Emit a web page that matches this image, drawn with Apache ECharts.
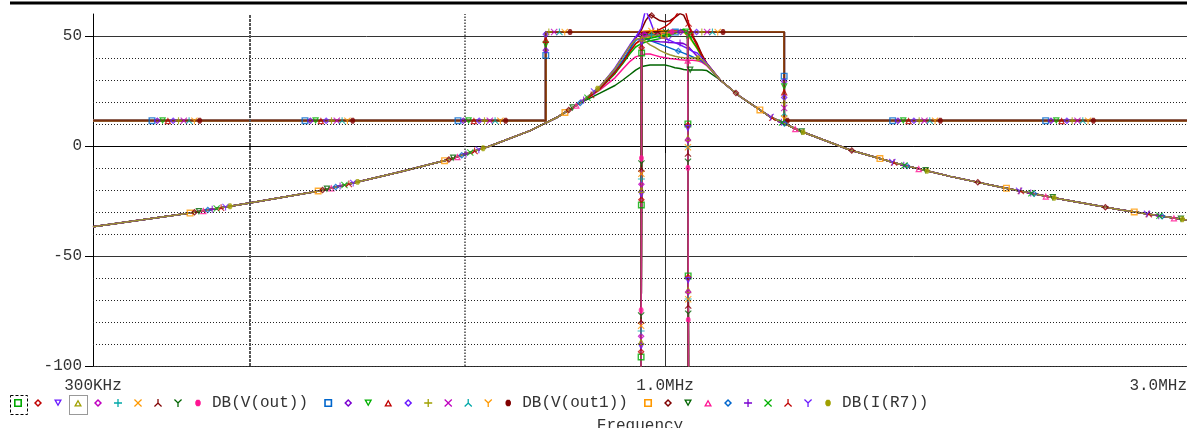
<!DOCTYPE html>
<html><head><meta charset="utf-8">
<script src="https://cdn.jsdelivr.net/npm/echarts@6/dist/echarts.min.js"></script>
<style>html,body{margin:0;padding:0;background:#fff;}#c{width:1187px;height:428px;}</style>
</head><body><div id="c"></div>
<script>
// ---------------- data ----------------
const xTickValues = [300e3, 1e6, 3e6];
const xTickLabels = ['300KHz', '1.0MHz', '3.0MHz'];
const yTickValues = [-100, -50, 0, 50];
const yTickLabels = ['-100', '-50', '0', '50'];
const yDottedGrid = [40, 30, 20, 10, -10, -20, -30, -40, -60, -70, -80, -90, -100];
const xDottedGrid = [417e3, 656e3];
const traceNames = ['DB(V(out))', 'DB(V(out1))', 'DB(I(R7))'];

// DB(V(out1)) : the 10 runs coincide
const out1FreqKHz = [300, 778, 778, 1285, 1285, 3000];
const out1Db      = [11.5, 11.5, 51.8, 51.8, 11.5, 11.5];

// DB(V(out)) : far below the plot outside a narrow band
const outFreqKHz = [300, 950, 952, 960, 969, 979, 989, 1000, 1010, 1021, 1032, 1040, 1049, 1051, 3000];
const outRun0 = [-200, -200, 48.0, 48.5, 49.0, 49.5, 50.0, 50.5, 51.0, 51.5, 52.0, 52.0, 52.0, -200, -200];
const outRun1 = [-200, -200, 50.0, 50.5, 51.0, 51.0, 51.2, 51.4, 51.6, 51.8, 52.0, 52.0, 52.0, -200, -200];
const outRun2 = [-200, -200, 51.0, 51.5, 51.5, 51.6, 51.6, 51.7, 51.8, 51.8, 51.9, 52.0, 52.0, -200, -200];
const outRun3 = [-200, -200, 49.0, 49.5, 50.0, 50.5, 51.0, 51.2, 51.4, 51.6, 51.8, 51.9, 52.0, -200, -200];
const outRun4 = [-200, -200, 50.5, 51.0, 51.0, 51.2, 51.4, 51.6, 51.8, 51.9, 52.0, 52.0, 52.0, -200, -200];
const outRun5 = [-200, -200, 49.5, 50.0, 50.5, 51.0, 51.3, 51.6, 51.8, 52.0, 52.0, 52.0, 52.0, -200, -200];
const outRun6 = [-200, -200, 52.0, 52.2, 52.3, 52.3, 52.3, 52.3, 52.3, 52.3, 52.3, 52.2, 52.0, -200, -200];
const outRun7 = [-200, -200, 51.5, 51.7, 51.8, 51.9, 52.0, 52.0, 52.0, 52.0, 52.0, 52.0, 52.0, -200, -200];
const outRun8 = [-200, -200, 50.0, 50.5, 51.0, 51.3, 51.6, 51.8, 52.0, 52.0, 52.0, 52.0, 52.0, -200, -200];
const outRun9 = [-200, -200, 49.5, 50.0, 50.5, 51.0, 51.3, 51.6, 51.8, 52.0, 52.0, 52.0, 52.0, -200, -200];

// DB(I(R7)) : resonance curves
const r7FreqKHz = [300, 368, 417, 484, 572, 632, 692, 753, 798, 836,
  872, 900, 915, 929, 940, 951, 960, 969, 979, 989, 1000, 1010, 1021, 1032, 1040, 1049, 1060, 1070, 1081, 1092,
  1123, 1171, 1247, 1329, 1476, 1639, 1822, 2024, 2297, 2606, 3000];
const r7LeftSkirt  = [-36.7, -30.5, -25.9, -20.3, -11.8, -6.4, 0.0, 7.0, 13.2, 19.5];
const r7RightSkirt = [30.0, 22.5, 13.3, 6.8, -1.8, -8.3, -13.8, -18.6, -24.1, -29.0, -33.6];
const r7Peak0 = [26.5, 33.0, 38.0, 43.0, 46.5, 48.0, 48.8, 49.3, 49.8, 50.0, 50.4, 50.8, 51.3, 51.8, 51.6, 50.2, 47.2, 44.2, 40.3, 36.8];
const r7Peak1 = [26.0, 33.0, 38.0, 44.0, 49.0, 52.5, 57.0, 59.8, 58.4, 57.0, 56.5, 56.9, 58.5, 60.2, 59.5, 55.5, 50.0, 46.5, 41.5, 37.5];
const r7Peak2 = [24.0, 27.5, 30.0, 32.5, 34.5, 36.0, 36.5, 36.8, 36.8, 36.8, 36.8, 36.3, 35.6, 35.2, 34.8, 34.5, 34.5, 34.5, 34.5, 34.3];
const r7Peak3 = [25.5, 31.0, 35.0, 38.5, 40.5, 41.3, 41.8, 41.8, 41.2, 40.6, 40.1, 39.8, 39.5, 39.2, 39.1, 39.0, 39.0, 38.8, 38.0, 36.5];
const r7Peak4 = [26.5, 34.0, 39.0, 44.0, 48.0, 49.2, 48.6, 47.9, 47.1, 46.3, 45.4, 44.6, 43.7, 42.9, 42.2, 41.5, 40.5, 39.6, 38.5, 37.0];
const r7Peak5 = [27.0, 35.0, 40.5, 45.5, 49.5, 51.0, 49.3, 48.0, 47.6, 47.4, 47.3, 47.1, 46.9, 46.8, 46.5, 45.5, 43.0, 40.8, 38.8, 37.0];
const r7Peak6 = [26.0, 33.0, 37.5, 42.0, 45.0, 46.5, 47.3, 47.8, 48.3, 48.8, 49.4, 50.2, 51.3, 52.6, 53.0, 51.5, 47.5, 44.5, 40.5, 37.0];
const r7Peak7 = [26.0, 33.5, 38.0, 43.0, 46.5, 48.5, 50.0, 51.0, 52.0, 53.0, 54.2, 55.8, 58.5, 62.0, 65.0, 57.0, 49.5, 45.5, 41.0, 37.5];
const r7Peak8 = [27.0, 35.5, 41.0, 46.0, 49.5, 53.5, 62.0, 57.0, 51.0, 49.3, 48.8, 48.0, 47.0, 46.0, 45.2, 44.3, 43.0, 42.3, 40.0, 37.5];
const r7Peak9 = [27.0, 35.0, 40.5, 45.5, 48.5, 49.0, 47.5, 46.0, 44.8, 43.5, 42.3, 41.5, 40.8, 40.3, 40.1, 40.0, 40.0, 40.0, 39.2, 37.0];

// ---------------- styling ----------------
const FONT = "'Liberation Mono', 'DejaVu Sans Mono', monospace";
const SYMS = [
  'path://M0,0H10V10H0Z M2,2V8H8V2Z',
  'path://M5,0L10,5L5,10L0,5Z M5,2.6L2.6,5L5,7.4L7.4,5Z',
  'path://M0,0.5L10,0.5L5,9.5Z M2.9,2.1L5,6.3L7.1,2.1Z',
  'path://M5,0.5L10,9.5L0,9.5Z M5,3.8L2.9,7.9L7.1,7.9Z',
  'path://M5,0L10,5L5,10L0,5Z M5,2.6L2.6,5L5,7.4L7.4,5Z',
  'path://M4.2,0H5.8V4.2H10V5.8H5.8V10H4.2V5.8H0V4.2H4.2Z',
  'path://M1.1,0L5,3.9L8.9,0L10,1.1L6.1,5L10,8.9L8.9,10L5,6.1L1.1,10L0,8.9L3.9,5L0,1.1Z',
  'path://M4.2,0H5.8V4.6L10,8.9L8.9,10L5,6.2L1.1,10L0,8.9L4.2,4.6Z',
  'path://M0,1.1L1.1,0L5,3.8L8.9,0L10,1.1L5.8,5.4V10H4.2V5.4Z',
  'path://M0,0h0.01v0.01Z M10,10h-0.01v-0.01Z M3.3,0.8H6.7L8.4,3.4V6.6L6.7,9.2H3.3L1.6,6.6V3.4Z'
];
const outColors  = ['#00a800','#c00000','#6a1aff','#a0a000','#c000c0','#00a8a8','#ff9900','#800000','#006400','#ff1493'];
const out1Colors = ['#0066cc','#7a00d0','#00b000','#c00000','#6a1aff','#a0a000','#c000c0','#00a8a8','#ff9900','#800000'];
const r7Colors   = ['#ff9900','#800000','#006400','#ff1493','#0066cc','#7a00d0','#00b000','#c00000','#6a1aff','#a0a000'];

const r7Peaks = [r7Peak0,r7Peak1,r7Peak2,r7Peak3,r7Peak4,r7Peak5,r7Peak6,r7Peak7,r7Peak8,r7Peak9];
const groups = [
  {t:0, freq: outFreqKHz, runs: [outRun0,outRun1,outRun2,outRun3,outRun4,outRun5,outRun6,outRun7,outRun8,outRun9],
   colors: outColors, lastLine: '#c8307f', width: 1.7, mk: {s0: 9, d: 5.2, P: 152}},
  {t:1, freq: out1FreqKHz, runs: [out1Db,out1Db,out1Db,out1Db,out1Db,out1Db,out1Db,out1Db,out1Db,out1Db],
   colors: out1Colors, lastLine: '#7a3010', width: 1.8, mk: {s0: 59, d: 5.3, P: 153}},
  {t:2, freq: r7FreqKHz, runs: r7Peaks.map(p => r7LeftSkirt.concat(p, r7RightSkirt)),
   colors: r7Colors, lastLine: '#9c9430', width: 1.5, mk: {s0: 98, d: 4.5, P: 130}}
];
const drawOrder = [1, 2, 0];

function runName(t, k) { return traceNames[t] + ' run ' + (k + 1); }

const chart = echarts.init(document.getElementById('c'), null, {renderer: 'canvas'});

const baseSeries = [{
  type: 'line', name: 'grid', data: [], z: 1, silent: true, animation: false,
  markLine: {
    silent: true, animation: false, symbol: ['none', 'none'], label: {show: false},
    lineStyle: {type: [1, 2], color: '#222', width: 1},
    emphasis: {disabled: true},
    data: yDottedGrid.map(v => ({yAxis: v}))
      .concat([{xAxis: xDottedGrid[0], lineStyle: {type: [3, 1], width: 2, color: '#555'}},
               {xAxis: xDottedGrid[1], lineStyle: {type: [1.5, 1.5], width: 1.5, color: '#444'}}])
  }
}];
drawOrder.forEach(gi => {
  const g = groups[gi];
  g.runs.forEach((vals, k) => {
    baseSeries.push({
      type: 'line', name: runName(g.t, k),
      data: g.freq.map((f, i) => [f * 1000, vals[i]]),
      showSymbol: false, symbol: SYMS[k], clip: true, silent: true, animation: false, z: 2,
      itemStyle: {color: g.colors[k]},
      lineStyle: {width: g.width, color: k === 9 ? g.lastLine : g.colors[k]},
      emphasis: {disabled: true}
    });
  });
});

const legendData = [];
groups.forEach(g => g.colors.forEach((c, k) => legendData.push({
  name: runName(g.t, k), icon: SYMS[k], itemStyle: {color: c, borderWidth: 0}
})));

chart.setOption({
  animation: false,
  grid: {left: 93, right: 0, top: 14, bottom: 62, containLabel: false, outerBoundsMode: 'none'},
  xAxis: {
    type: 'log', logBase: 10, min: 3e5, max: 3e6,
    name: 'Frequency', nameLocation: 'middle', nameGap: 52,
    nameTextStyle: {fontFamily: FONT, fontSize: 16, color: '#333'},
    axisLine: {show: true, lineStyle: {color: '#000', width: 1}},
    axisTick: {show: true, length: 7, inside: false, lineStyle: {color: '#000'}},
    axisLabel: {
      show: true, margin: 12, fontFamily: FONT, fontSize: 16, color: '#333',
      alignMaxLabel: 'right', showMinLabel: true, showMaxLabel: true,
      formatter: v => {
        let best = 0;
        xTickValues.forEach((t, i) => { if (Math.abs(Math.log10(t) - Math.log10(v)) < Math.abs(Math.log10(xTickValues[best]) - Math.log10(v))) best = i; });
        return xTickLabels[best];
      }
    },
    splitLine: {show: true, lineStyle: {color: '#333', width: 1}},
    minorTick: {show: false}, minorSplitLine: {show: false}
  },
  yAxis: {
    type: 'value', min: -100, max: 60, interval: 50,
    axisLine: {show: true, onZero: false, lineStyle: {color: '#000', width: 1}},
    axisTick: {show: true, length: 8, inside: false, customValues: yTickValues, lineStyle: {color: '#000'}},
    axisLabel: {
      show: true, margin: 11, fontFamily: FONT, fontSize: 16, color: '#333',
      formatter: v => { const i = yTickValues.indexOf(v); return i >= 0 ? yTickLabels[i] : ''; }
    },
    splitLine: {show: true, lineStyle: {color: '#333', width: 1}}
  },
  legend: {
    left: 14, top: 395, padding: 0, itemGap: 12, itemWidth: 8, itemHeight: 8,
    selectedMode: false, data: legendData,
    itemStyle: {borderWidth: 0},
    formatter: name => {
      const m = name.match(/^(.*) run (\d+)$/);
      return (m && m[2] === '10') ? '{t|' + m[1] + '}{s| }' : '';
    },
    textStyle: {fontFamily: FONT, fontSize: 16, color: '#333',
      rich: {t: {fontFamily: FONT, fontSize: 16, color: '#333', padding: [0, 0, 0, 5]},
             s: {fontFamily: FONT, fontSize: 7}}}
  },
  graphic: [
    {type: 'rect', shape: {x: 10, y: 1.5, width: 1177, height: 3}, style: {fill: '#000'}, silent: true},
    {type: 'rect', shape: {x: 10.5, y: 395.5, width: 17, height: 19}, style: {fill: 'none', stroke: '#000', lineWidth: 1, lineDash: [3, 2]}, silent: true},
    {type: 'rect', shape: {x: 69.5, y: 395.5, width: 18, height: 19}, style: {fill: 'none', stroke: '#333', lineWidth: 1, lineDash: [1, 1]}, silent: true}
  ],
  series: baseSeries
});

// ---------- markers placed along each visible trace (PSpice style) ----------
function clipSeg(x0, y0, x1, y1, r) {
  let t0 = 0, t1 = 1;
  const dx = x1 - x0, dy = y1 - y0;
  const p = [-dx, dx, -dy, dy], q = [x0 - r.x0, r.x1 - x0, y0 - r.y0, r.y1 - y0];
  for (let i = 0; i < 4; i++) {
    if (Math.abs(p[i]) < 1e-12) { if (q[i] < -1e-9) return null; }
    else {
      const t = q[i] / p[i];
      if (p[i] < 0) { if (t > t1) return null; if (t > t0) t0 = t; }
      else { if (t < t0) return null; if (t < t1) t1 = t; }
    }
  }
  return [t0, t1];
}
const tl = chart.convertToPixel({gridIndex: 0}, [3e5, 60]);
const br = chart.convertToPixel({gridIndex: 0}, [3e6, -100]);
const rect = {x0: tl[0] - 0.01, y0: tl[1] - 0.01, x1: br[0] + 0.01, y1: br[1] + 0.01};

function markersFor(freqKHz, vals, mk, k) {
  const pts = freqKHz.map((f, i) => chart.convertToPixel({gridIndex: 0}, [f * 1000, vals[i]]));
  const out = [];
  let acc = 0, target = mk.s0 + k * mk.d;
  for (let i = 0; i < pts.length - 1; i++) {
    const [x0, y0] = pts[i], [x1, y1] = pts[i + 1];
    const c = clipSeg(x0, y0, x1, y1, rect);
    if (!c) continue;
    const L = Math.hypot(x1 - x0, y1 - y0) * (c[1] - c[0]);
    if (L <= 0) continue;
    while (target <= acc + L) {
      const t = c[0] + (target - acc) / L * (c[1] - c[0]);
      const f0 = freqKHz[i] * 1000, f1 = freqKHz[i + 1] * 1000;
      out.push([f0 * Math.pow(f1 / f0, t), vals[i] + (vals[i + 1] - vals[i]) * t]);
      target += mk.P;
    }
    acc += L;
  }
  return out;
}
const markerSeries = [];
drawOrder.forEach(gi => {
  const g = groups[gi];
  g.runs.forEach((vals, k) => {
    markerSeries.push({
      type: 'scatter', name: runName(g.t, k) + ' markers',
      data: markersFor(g.freq, vals, g.mk, k),
      symbol: SYMS[k], symbolSize: 7, z: 3, silent: true, animation: false,
      itemStyle: {color: g.colors[k], borderWidth: 0},
      emphasis: {disabled: true}
    });
  });
});
chart.setOption({series: baseSeries.concat(markerSeries)});
</script>
</body></html>
